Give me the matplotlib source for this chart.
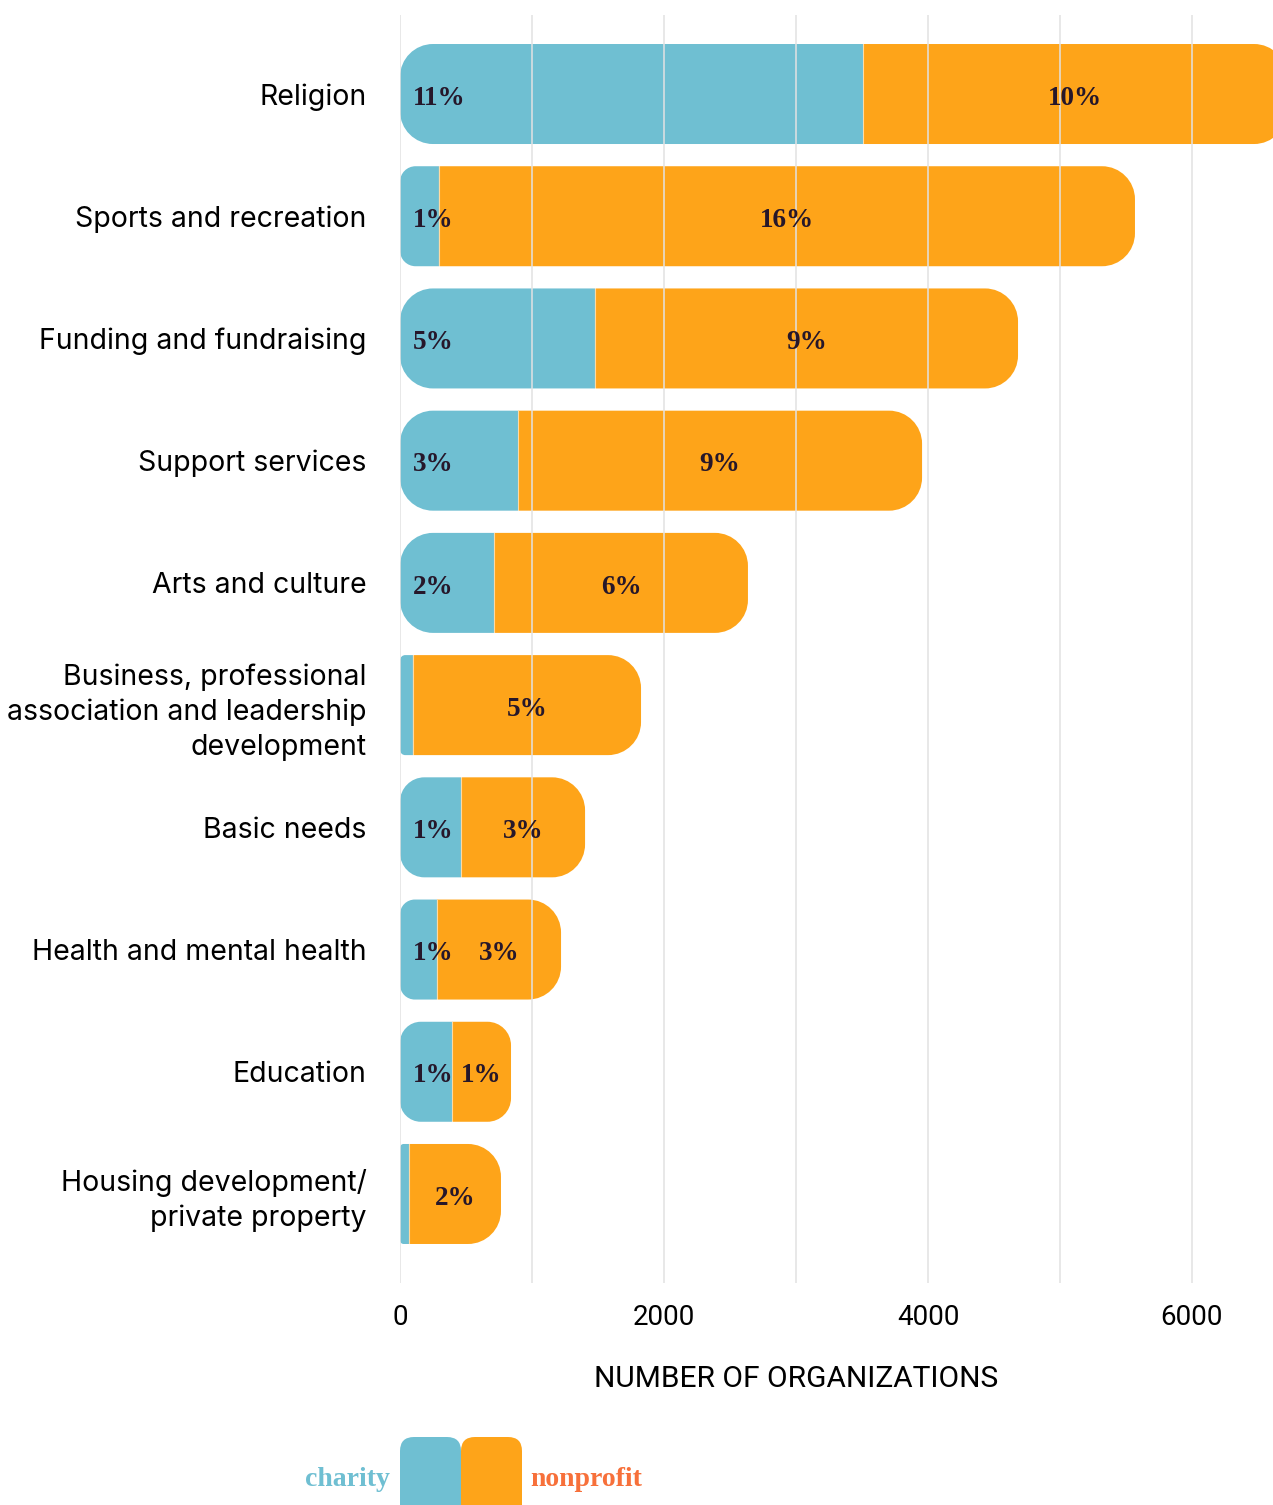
import matplotlib
matplotlib.use("Agg")
import matplotlib.pyplot as plt
from matplotlib.path import Path
from matplotlib.patches import PathPatch, FancyBboxPatch
import numpy as np

categories = [
    "Religion",
    "Sports and recreation",
    "Funding and fundraising",
    "Support services",
    "Arts and culture",
    "Business, professional\nassociation and leadership\ndevelopment",
    "Basic needs",
    "Health and mental health",
    "Education",
    "Housing development/\nprivate property",
]
charity = [3508, 295, 1477, 894, 712, 98, 462, 280, 394, 68]
total = [6720, 5568, 4682, 3955, 2636, 1826, 1402, 1220, 841, 765]
nonprofit = [t - c for t, c in zip(total, charity)]
charity_pct = ["11%", "1%", "5%", "3%", "2%", "", "1%", "1%", "1%", ""]
nonprofit_pct = ["10%", "16%", "9%", "9%", "6%", "5%", "3%", "3%", "1%", "2%"]
xticks_major = [0, 2000, 4000, 6000]
xticks_minor = [1000, 3000, 5000]

BLUE = "#6fbfd2"
ORANGE = "#fea419"
DARK = "#26172a"
GRID = "#e2e2e2"

W, H = 1273, 1505
fig = plt.figure(figsize=(W / 100, H / 100), dpi=100)
ax_left, ax_top, ax_bottom = 400, 15, 1283
ax = fig.add_axes([ax_left / W, 1 - ax_bottom / H, (W - ax_left) / W, (ax_bottom - ax_top) / H])

px_per_unit_x = 0.132
xmax = (W - ax_left) / px_per_unit_x
step_px = 122.2
ymin_top = -(94 - ax_top) / step_px
ymax_bot = 9 + (ax_bottom - 1194) / step_px
ax.set_xlim(0, xmax)
ax.set_ylim(ymax_bot, ymin_top)

ux = xmax / (W - ax_left)          # data x per px
uy = (ymax_bot - ymin_top) / (ax_bottom - ax_top)  # data y per px
bar_h = 100 * uy
R = 33  # px

K = 0.5523


def seg_path(x0, x1, yc, h, rl, rr):
    rlx, rly = rl * ux, rl * uy
    rrx, rry = rr * ux, rr * uy
    y0, y1 = yc - h / 2, yc + h / 2
    v = [(x0 + rlx, y0), (x1 - rrx, y0),
         (x1 - rrx + K * rrx, y0), (x1, y0 + rry - K * rry), (x1, y0 + rry),
         (x1, y1 - rry),
         (x1, y1 - rry + K * rry), (x1 - rrx + K * rrx, y1), (x1 - rrx, y1),
         (x0 + rlx, y1),
         (x0 + rlx - K * rlx, y1), (x0, y1 - rly + K * rly), (x0, y1 - rly),
         (x0, y0 + rly),
         (x0, y0 + rly - K * rly), (x0 + rlx - K * rlx, y0), (x0 + rlx, y0),
         (x0 + rlx, y0)]
    c = [Path.MOVETO, Path.LINETO,
         Path.CURVE4, Path.CURVE4, Path.CURVE4,
         Path.LINETO,
         Path.CURVE4, Path.CURVE4, Path.CURVE4,
         Path.LINETO,
         Path.CURVE4, Path.CURVE4, Path.CURVE4,
         Path.LINETO,
         Path.CURVE4, Path.CURVE4, Path.CURVE4,
         Path.CLOSEPOLY]
    return Path(v, c)


PCT_FONT = dict(fontsize=19.5, fontweight="bold", family="Liberation Serif", color=DARK)

ypos = np.arange(len(categories))
for i, (c, n) in enumerate(zip(charity, nonprofit)):
    t = c + n
    wc = c / ux
    wn = n / ux
    rc = min(R, wc * 0.4)
    rn = min(R, wn * 0.4)
    ax.add_patch(PathPatch(seg_path(0, c, ypos[i], bar_h, rc, 0), facecolor=BLUE,
                           edgecolor="none", zorder=2))
    ax.add_patch(PathPatch(seg_path(c, t, ypos[i], bar_h, 0, rn), facecolor=ORANGE,
                           edgecolor="none", zorder=2))
    ax.plot([c, c], [ypos[i] - bar_h / 2, ypos[i] + bar_h / 2], color="white",
            lw=0.8, alpha=0.6, zorder=2.5)
    if charity_pct[i]:
        ax.annotate(charity_pct[i], xy=(0, ypos[i]), xytext=(9, -3),
                    textcoords="offset points", ha="left", va="center",
                    zorder=4, **PCT_FONT)
    ax.annotate(nonprofit_pct[i], xy=((c + t) / 2, ypos[i]), xytext=(0, -3),
                textcoords="offset points", ha="center", va="center",
                zorder=4, **PCT_FONT)

ax.vlines(xticks_major + xticks_minor, ymax_bot, ymin_top, colors=GRID, lw=1.1, zorder=3)
ax.set_xticks(xticks_major)
ax.set_xticklabels([str(v) for v in xticks_major], fontsize=20, family="Roboto")
ax.tick_params(axis="x", which="both", length=0, pad=15)
ax.set_yticks(ypos)
ax.set_yticklabels(categories, fontsize=20.5, family="Inter", linespacing=1.36)
ax.tick_params(axis="y", length=0, pad=24)
for s in ax.spines.values():
    s.set_visible(False)

ax.text(3000, -(1379 - ax_bottom) / (ax_bottom - ax_top), "NUMBER OF ORGANIZATIONS",
        transform=ax.get_xaxis_transform(), ha="center", va="center",
        fontsize=21.5, family="Roboto", color="black")

# legend
lax = fig.add_axes([0, 0, 1, 85 / H])
lax.set_xlim(0, W)
lax.set_ylim(1505, 1420)
lax.axis("off")
lax.add_patch(FancyBboxPatch((400, 1437), 61, 120, boxstyle="round,pad=0,rounding_size=14",
                             facecolor=BLUE, edgecolor="none"))
lax.add_patch(FancyBboxPatch((461, 1437), 61, 120, boxstyle="round,pad=0,rounding_size=14",
                             facecolor=ORANGE, edgecolor="none"))
lax.text(390, 1480, "charity", ha="right", va="center", fontsize=20, fontweight="bold",
         family="Liberation Serif", color="#6fbfd2")
lax.text(530, 1480, "nonprofit", ha="left", va="center", fontsize=20, fontweight="bold",
         family="Liberation Serif", color="#f7703a")

fig.savefig("out.png", dpi=100)
